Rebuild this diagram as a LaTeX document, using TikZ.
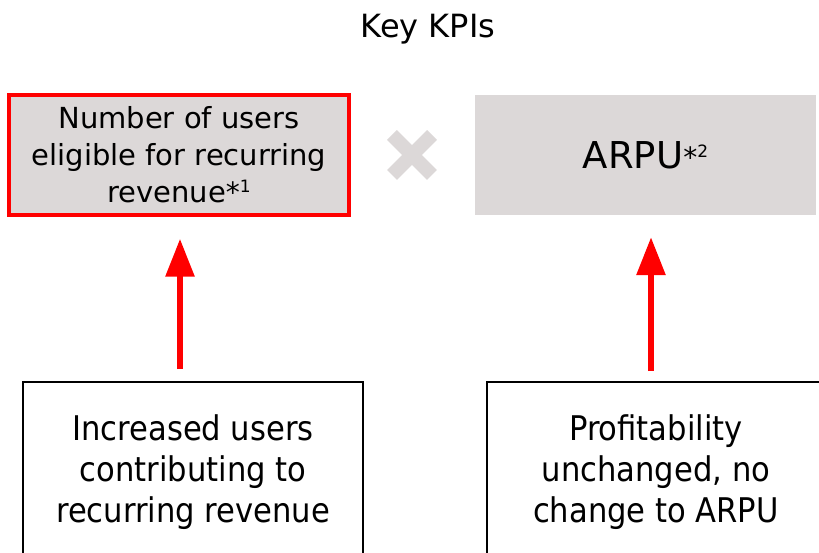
\documentclass[tikz,border=0pt]{standalone}
\usepackage{fontspec}
\setmainfont{DejaVu Sans}
\newfontfamily\condfont{DejaVu Sans Condensed}
\usetikzlibrary{arrows.meta}
\definecolor{kpigray}{HTML}{DCD8D8}
\definecolor{kpired}{HTML}{FF0000}
\tikzset{
  kpibox/.style={fill=kpigray, minimum width=341pt, minimum height=120pt, inner sep=0pt, align=center, font=\fontsize{29}{37}\selectfont},
  causebox/.style={draw=black, line width=1.5pt, fill=white, minimum width=#1, minimum height=180pt, inner sep=0pt, align=center, font=\condfont\fontsize{34}{41}\selectfont},
  redarrow/.style={draw=kpired, line width=6pt, -{Triangle[width=28pt,length=38pt]}},
  crossarm/.style={draw=kpigray, line width=14pt, line cap=butt},
}
\newcommand{\supmark}[1]{{\fontsize{28}{28}\selectfont\raisebox{0.5pt}{*}}\raisebox{10.5pt}{\fontsize{17}{17}\selectfont #1}}
\begin{document}
\begin{tikzpicture}[x=1pt,y=1pt]
\useasboundingbox (0,0) rectangle (819,553);
\node[font=\fontsize{32}{32}\selectfont] (title) at (428,524) {Key KPIs};
\node[kpibox, draw=kpired, line width=3.5pt, minimum width=340pt] (users) at (179,398) {Number of users\\eligible for recurring\\revenue\supmark{1}};
\node[kpibox, font=\fontsize{37}{37}\selectfont] (arpu) at (645.5,398) {ARPU\supmark{2}};
\draw[crossarm] (392,418) -- (432,378);
\draw[crossarm] (392,378) -- (432,418);
\node[causebox=340pt] (inc) at (193,81) {Increased users\\contributing to\\recurring revenue};
\node[causebox=338pt] (prof) at (656,81) {Profitability\\unchanged, no\\change to ARPU};
\draw[redarrow] ([yshift=12pt]inc.north -| 180,0) -- ([yshift=-22pt]users.south -| 180,0);
\draw[redarrow] ([yshift=10pt]prof.north -| 651,0) -- ([yshift=-22pt]arpu.south -| 651,0);
\end{tikzpicture}
\end{document}
